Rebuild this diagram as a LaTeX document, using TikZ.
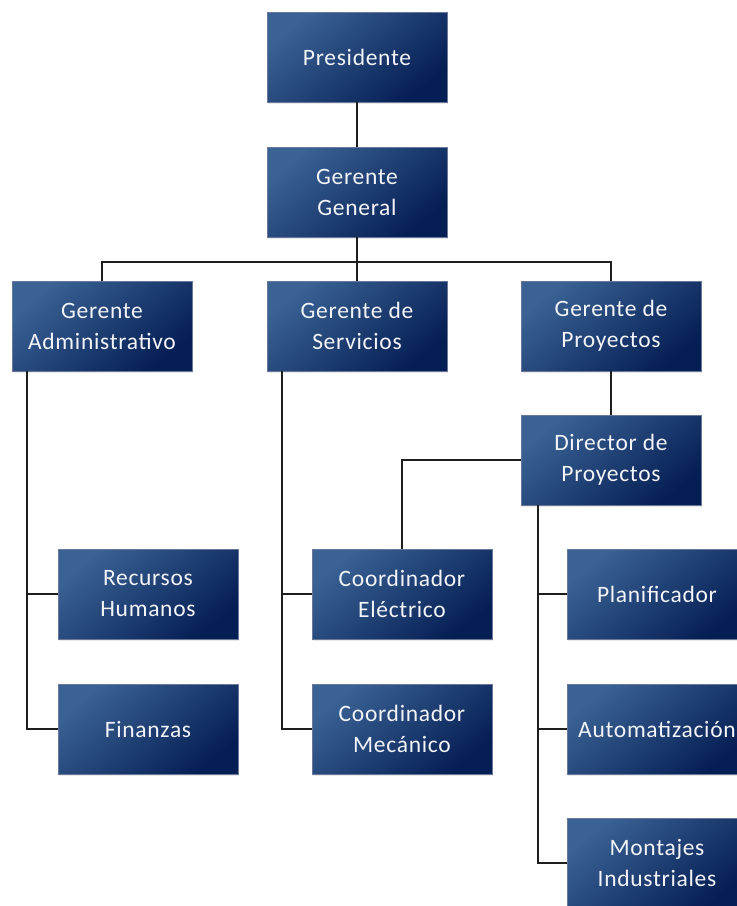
\documentclass[tikz,border=0pt]{standalone}
\usepackage{fontspec}
\setmainfont{Carlito}[LetterSpace=3]
\usetikzlibrary{shadows}
\definecolor{boxlight}{RGB}{58,98,148}
\definecolor{boxdark}{RGB}{5,30,84}
\definecolor{boxtext}{RGB}{242,244,248}
\definecolor{linkcol}{RGB}{30,30,30}
\tikzset{
  unitbox/.style={rectangle, minimum width=180pt, minimum height=90pt,
    inner sep=0pt, align=center, text=boxtext,
    font=\fontsize{23.5}{31}\selectfont,
    top color=boxlight, bottom color=boxdark, shading angle=40,
    draw=boxdark!60!white, line width=0.4pt,
    drop shadow={shadow xshift=1pt, shadow yshift=-1.5pt, opacity=0.18}},
  link/.style={draw=linkcol, line width=1.4pt}
}
\begin{document}
\begin{tikzpicture}[x=1pt, y=-1pt]
\useasboundingbox (0,0) rectangle (737,906);
\clip (0,0) rectangle (737,906);

% top of the chart
\node[unitbox] (pres) at (357,57)  {Presidente};
\node[unitbox] (gg)   at (357,192) {Gerente\\General};

% managers
\node[unitbox] (adm)  at (102,326) {Gerente\\Administrativo};
\node[unitbox] (serv) at (357,326) {Gerente de\\Servicios};
\node[unitbox] (proj) at (611,326) {Gerente de\\Proyectos};
\node[unitbox] (dir)  at (611,460) {Director de\\Proyectos};

% staff under each manager
\node[unitbox] (rh)   at (148,594) {Recursos\\Humanos};
\node[unitbox] (fin)  at (148,729) {Finanzas};
\node[unitbox] (ce)   at (402,594) {Coordinador\\Eléctrico};
\node[unitbox] (cm)   at (402,729) {Coordinador\\Mecánico};
\node[unitbox] (plan) at (657,594) {Planificador};
\node[unitbox] (auto) at (657,729) {Automatización};
\node[unitbox] (mont) at (657,863) {Montajes\\Industriales};

% connectors
\coordinate (bus) at (357,262);
\draw[link] (pres.south) -- (gg.north);
\draw[link] (gg.south) -- (serv.north);
\draw[link] (adm.north) -- (adm.north |- bus) -- (proj.north |- bus) -- (proj.north);
\draw[link] (proj.south) -- (dir.north);
\draw[link] (dir.west) -- (ce.north |- dir.west) -- (ce.north);

\coordinate (admtrunk) at ([xshift=15pt]adm.south west);
\draw[link] (admtrunk) |- (fin.west);
\draw[link] (rh.west) -- (rh.west -| admtrunk);

\coordinate (servtrunk) at ([xshift=15pt]serv.south west);
\draw[link] (servtrunk) |- (cm.west);
\draw[link] (ce.west) -- (ce.west -| servtrunk);

\coordinate (dirtrunk) at ([xshift=17pt]dir.south west);
\draw[link] (dirtrunk) |- (mont.west);
\draw[link] (plan.west) -- (plan.west -| dirtrunk);
\draw[link] (auto.west) -- (auto.west -| dirtrunk);
\end{tikzpicture}
\end{document}
